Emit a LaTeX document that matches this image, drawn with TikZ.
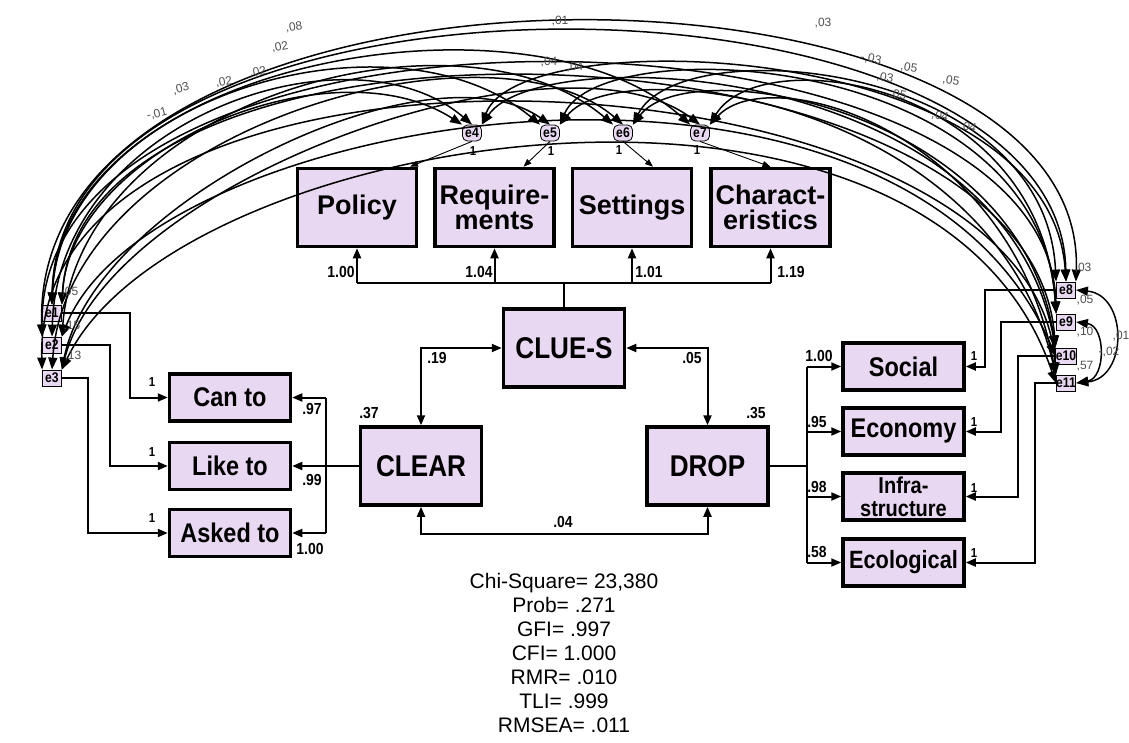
\documentclass[tikz,border=0pt]{standalone}
\usepackage{fontspec}
\setmainfont{Liberation Sans}
\newfontfamily\condf[FakeStretch=0.87]{Liberation Sans}
\usetikzlibrary{arrows.meta,calc}
\definecolor{lav}{RGB}{233,216,242}
\definecolor{lblgray}{RGB}{80,80,80}
\begin{document}
\begin{tikzpicture}[x=1pt,y=-1pt,
  box/.style={draw,line width=3.5pt,fill=lav,inner sep=0pt,align=center},
  topbox/.style={box,minimum width=119pt,minimum height=78pt,font={\fontsize{27}{25}\selectfont\bfseries}},
  sidebox/.style={box,minimum width=121pt,minimum height=47pt,font={\condf\bfseries\fontsize{27}{23}\selectfont}},
  latbox/.style={box,minimum width=121pt,minimum height=78pt,font={\condf\bfseries\fontsize{30}{30}\selectfont}},
  err/.style={draw,line width=0.8pt,fill=lav,inner sep=0pt,minimum width=19pt,minimum height=16pt,font={\condf\bfseries\fontsize{14}{14}\selectfont}},
  errt/.style={err,rounded corners=5pt},
  path/.style={line width=2pt,-{Triangle[length=10pt,width=8pt]}},
  bipath/.style={line width=2pt,{Triangle[length=10pt,width=8pt]}-{Triangle[length=10pt,width=8pt]}},
  plain/.style={line width=2pt},
  thin/.style={line width=0.9pt,-{Triangle[length=8pt,width=6pt]}},
  cov/.style={line width=1.5pt,{Triangle[length=12pt,width=9pt]}-{Triangle[length=12pt,width=9pt]}},
  num/.style={font={\condf\bfseries\fontsize{16}{16}\selectfont},inner sep=0pt},
  one/.style={font={\condf\bfseries\fontsize{13}{13}\selectfont},inner sep=0pt},
  lbl/.style={font={\fontsize{12}{12}\selectfont},text=lblgray,inner sep=0pt}
]
\useasboundingbox[fill=white] (0,0) rectangle (1129,742);

% top indicator boxes
\node[topbox] (policy) at (357,207.5) {Policy};
\node[topbox] (req) at (494.5,207.5) {Require-\\ments};
\node[topbox] (set) at (632,207.5) {Settings};
\node[topbox] (chr) at (770.5,207.5) {Charact-\\eristics};

% latent
\node[latbox] (clues) at (564,348) {CLUE-S};
\node[latbox] (clear) at (421,466) {CLEAR};
\node[latbox] (drop) at (707.5,466) {DROP};

% left indicators
\node[sidebox] (canto) at (230,397.5) {Can to};
\node[sidebox] (liketo) at (230,466) {Like to};
\node[sidebox] (asked) at (230,533) {Asked to};

% right indicators
\node[sidebox] (social) at (903.5,366.5) {Social};
\node[sidebox] (econ) at (903.5,431.5) {Economy};
\node[sidebox,font={\condf\bfseries\fontsize{23}{23}\selectfont}] (infra) at (903.5,496.5) {Infra-\\structure};
\node[sidebox,font={\condf\bfseries\fontsize{25}{23}\selectfont}] (ecol) at (903.5,562.5) {Ecological};

% error terms
\node[err] (e1) at (52,313) {e1};
\node[err] (e2) at (52,345) {e2};
\node[err] (e3) at (52,378) {e3};
\node[errt] (e4) at (472,133) {e4};
\node[errt] (e5) at (550,133) {e5};
\node[errt] (e6) at (623,133) {e6};
\node[errt] (e7) at (700,133) {e7};
\node[err] (e8) at (1066,290) {e8};
\node[err] (e9) at (1066,322) {e9};
\node[err] (e10) at (1066,356) {e10};
\node[err] (e11) at (1066,383) {e11};

% CLUE-S to top indicators
\coordinate (bus) at (564,283);
\draw[plain] (clues.north) -- (bus);
\draw[plain] (policy.south |- bus) -- (chr.south |- bus);
\draw[path] (policy.south |- bus) -- (policy.south);
\draw[path] (req.south |- bus) -- (req.south);
\draw[path] (set.south |- bus) -- (set.south);
\draw[path] (chr.south |- bus) -- (chr.south);
\node[num] (w1) at (341,272) {1.00};
\node[num] (w2) at (479,272) {1.04};
\node[num] (w3) at (649,272) {1.01};
\node[num] (w4) at (791,272) {1.19};

% CLEAR indicators
\coordinate (lbus) at (326,466);
\draw[plain] (clear.west) -- (lbus);
\draw[plain] (lbus |- canto.east) -- (lbus |- asked.east);
\draw[path] (lbus |- canto.east) -- (canto.east);
\draw[path] (lbus) -- (liketo.east);
\draw[path] (lbus |- asked.east) -- (asked.east);
\node[num] (w5) at (312,409) {.97};
\node[num] (w6) at (312,480) {.99};
\node[num] (w7) at (310,549) {1.00};

% DROP indicators
\coordinate (rbus) at (807,466);
\draw[plain] (drop.east) -- (rbus);
\draw[plain] (rbus |- social.west) -- (rbus |- ecol.west);
\draw[path] (rbus |- social.west) -- (social.west);
\draw[path] (rbus |- econ.west) -- (econ.west);
\draw[path] (rbus |- infra.west) -- (infra.west);
\draw[path] (rbus |- ecol.west) -- (ecol.west);
\node[num] (w8) at (819,356) {1.00};
\node[num] (w9) at (817,422) {.95};
\node[num] (w10) at (817,487) {.98};
\node[num] (w11) at (817,552) {.58};

% latent covariances
\coordinate (bot) at (564,534);
\draw[bipath] (clues.west) -| (clear.north);
\draw[bipath] (clues.east) -| (drop.north);
\draw[bipath] (clear.south) |- (bot) -| (drop.south);
\node[num] (w12) at (437,358) {.19};
\node[num] (w13) at (692,358) {.05};
\node[num] (w14) at (563,522) {.04};
\node[num] (w15) at (369,413) {.37};
\node[num] (w16) at (756,413) {.35};

% errors to left indicators
\coordinate (k1) at (130,0);
\coordinate (k2) at (110,0);
\coordinate (k3) at (88,0);
\draw[path] (e1.east) -| (k1 |- canto.west) -- (canto.west);
\draw[path] (e2.east) -| (k2 |- liketo.west) -- (liketo.west);
\draw[path] (e3.east) -| (k3 |- asked.west) -- (asked.west);
\node[one] (o1) at (152,382) {1};
\node[one] (o2) at (152,452) {1};
\node[one] (o3) at (152,518) {1};

% errors to right indicators
\coordinate (k8) at (985,0);
\coordinate (k9) at (1001,0);
\coordinate (k10) at (1018,0);
\coordinate (k11) at (1035,0);
\draw[path] (e8.west) -| (k8 |- social.east) -- (social.east);
\draw[path] (e9.west) -| (k9 |- econ.east) -- (econ.east);
\draw[path] (e10.west) -| (k10 |- infra.east) -- (infra.east);
\draw[path] (e11.west) -| (k11 |- ecol.east) -- (ecol.east);
\node[one] (o8) at (974,356) {1};
\node[one] (o9) at (974,422) {1};
\node[one] (o10) at (974,488) {1};
\node[one] (o11) at (974,553) {1};

% errors to top indicators
\draw[thin] (e4.south) -- ([xshift=53pt]policy.north);
\draw[thin] (e5.south) -- ([xshift=29pt]req.north);
\draw[thin] (e6.south) -- ([xshift=21pt]set.north);
\draw[thin] (e7.south) -- (chr.north);
\node[one] (o4) at (473,151) {1};
\node[one] (o5) at (551,151) {1};
\node[one] (o6) at (619,150) {1};
\node[one] (o7) at (697,150) {1};

% covariances left-right
\draw[cov] (e1.north) .. controls (58,-60) and (1060,-50) .. (e8.north);
\draw[cov] (e1.north east) .. controls (80,-20) and (1030,10) .. (e10.north west);
\draw[cov] (e2.north west) .. controls (28,-75) and (1088,-70) .. (e8.north east);
\draw[cov] (e2.north west) .. controls (38,-30) and (1048,-15) .. (e9.north west);
\draw[cov] (e3.north west) .. controls (32,-10) and (1035,40) .. (e11.north west);
\draw[cov] (e2.north east) .. controls (150,110) and (900,-10) .. (e10.west);
\draw[cov] (e3.north east) .. controls (175,130) and (930,10) .. (e11.west);
% covariances left-top
\draw[cov] (e1.north east) .. controls (70,150) and (330,40) .. (e4.north west);
\draw[cov] (e2.north) .. controls (58,120) and (350,20) .. (e4.north);
\draw[cov] (e1.north) .. controls (60,100) and (390,0) .. (e5.north west);
\draw[cov] (e3.north east) .. controls (95,200) and (430,40) .. (e5.north);
\draw[cov] (e2.north east) .. controls (80,100) and (460,-5) .. (e6.north west);
\draw[cov] (e3.north) .. controls (68,130) and (490,10) .. (e6.north);
\draw[cov] (e1.north) .. controls (58,60) and (530,-20) .. (e7.north west);
\draw[cov] (e3.north east) .. controls (110,180) and (560,20) .. (e7.north);
% covariances top-right
\draw[cov] (e4.north east) .. controls (520,20) and (1050,40) .. (e8.north);
\draw[cov] (e4.north east) .. controls (540,40) and (1000,60) .. (e10.north west);
\draw[cov] (e5.north east) .. controls (600,30) and (1040,50) .. (e9.north west);
\draw[cov] (e5.north east) .. controls (620,50) and (990,100) .. (e11.north west);
\draw[cov] (e6.north east) .. controls (680,30) and (1045,60) .. (e8.north west);
\draw[cov] (e6.north east) .. controls (690,50) and (1020,110) .. (e10.north west);
\draw[cov] (e7.north east) .. controls (760,40) and (1040,80) .. (e9.north west);
\draw[cov] (e7.north east) .. controls (770,60) and (1010,130) .. (e11.north west);
% covariances among right errors
\draw[cov] (e8.east) .. controls (1128,295) and (1128,378) .. (e11.east);
\draw[cov] (e9.east) .. controls (1106,326) and (1106,378) .. (e11.east);

% covariance labels
\node[lbl,rotate=8] (c1) at (294,27) {,08};
\node[lbl,rotate=10] (c2) at (280,47) {,02};
\node[lbl,rotate=15] (c3) at (181,89) {,03};
\node[lbl,rotate=15] (c4) at (157,114) {-,01};
\node[lbl,rotate=10] (c5) at (224,82) {,02};
\node[lbl,rotate=10] (c6) at (258,72) {,02};
\node[lbl] (c7) at (560,21) {,01};
\node[lbl] (c8) at (549,62) {,04};
\node[lbl] (c9) at (575,67) {,04};
\node[lbl] (c10) at (823,23) {,03};
\node[lbl,rotate=-10] (c11) at (871,59) {-,03};
\node[lbl,rotate=-10] (c12) at (885,78) {,03};
\node[lbl,rotate=-10] (c13) at (909,68) {,05};
\node[lbl,rotate=-10] (c14) at (951,81) {,05};
\node[lbl,rotate=-10] (c15) at (898,95) {,05};
\node[lbl,rotate=-15] (c16) at (940,116) {,04};
\node[lbl,rotate=-15] (c17) at (968,127) {,04};
\node[lbl] (c18) at (1083,268) {,03};
\node[lbl] (c19) at (1085,300) {,05};
\node[lbl] (c20) at (1085,332) {,10};
\node[lbl] (c21) at (1085,366) {,57};
\node[lbl] (c22) at (1121,336) {,01};
\node[lbl] (c23) at (1109,352) {-,02};
\node[lbl] (c24) at (70,292) {,05};
\node[lbl] (c25) at (72,326) {,15};
\node[lbl] (c26) at (73,356) {,13};

% fit statistics
\node[align=center,font={\fontsize{21}{24}\selectfont},inner sep=0pt] (stats) at (564,653)
  {Chi-Square= 23,380\\Prob= .271\\GFI= .997\\CFI= 1.000\\RMR= .010\\TLI= .999\\RMSEA= .011};
\end{tikzpicture}
\end{document}
